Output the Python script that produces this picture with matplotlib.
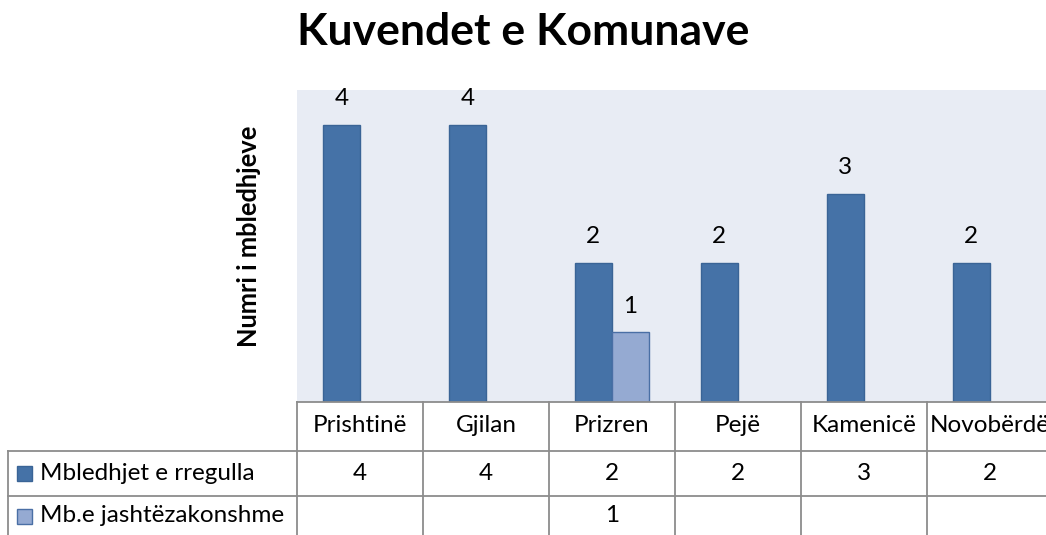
import matplotlib.pyplot as plt
import numpy as np
from matplotlib.transforms import blended_transform_factory

# te dhenat e grafikut
komunat = ['Prishtinë', 'Gjilan', 'Prizren', 'Pejë', 'Kamenicë', 'Novobërdë']
te_rregullta = [4, 4, 2, 2, 3, 2]
jashtezakonshme = [None, None, 1, None, None, None]
seri_emrat = ['Mbledhjet e rregulla', 'Mb.e jashtëzakonshme']

ngjyrat = ['#4572A7', '#95AAD2']
skajet = ['#3A6496', '#4A6FA5']
W, H = 1046, 535
fs = 17.5

plt.rcParams['font.family'] = ['Lato', 'DejaVu Sans']

fig = plt.figure(figsize=(W / 100, H / 100), dpi=100)
# plot area goes past the right edge, like the cropped original
ax = fig.add_axes([297 / W, 1 - 401.7 / H, 756 / W, 311.7 / H])
ax.set_facecolor('#E8ECF4')
ax.set_xlim(-0.5, len(komunat) - 0.5)
ax.set_ylim(0, 4.5)
ax.set_xticks([])
ax.set_yticks([])
for s in ax.spines.values():
    s.set_visible(False)

x = np.arange(len(komunat))
bw = 0.295
for i, vlerat in enumerate([te_rregullta, jashtezakonshme]):
    off = (i - 0.5) * bw
    for xi, v in zip(x, vlerat):
        if v is None:
            continue
        ax.bar(xi + off, v, bw, color=ngjyrat[i], edgecolor=skajet[i], linewidth=1)
        ax.annotate(str(v), (xi + off, v), xytext=(0, 19), textcoords='offset points',
                    ha='center', va='center', fontsize=fs)

fig.text(249 / W, 1 - 236 / H, 'Numri i mbledhjeve', rotation=90, ha='center', va='center',
         fontsize=18.4, fontweight='bold')
fig.text(523 / W, 1 - 45 / H, 'Kuvendet e Komunave', ha='center', va='baseline',
         fontsize=32, fontweight='bold')

# tabela e te dhenave poshte grafikut
tr = blended_transform_factory(ax.transData, fig.transFigure)
ngj_vija = '#8C8C8C'
y_rreshta = [1 - 401.7 / H, 1 - 451 / H, 1 - 496 / H]
xr = len(komunat) + 1
x_majtas = 8 / W

ax.plot([-0.5, xr], [y_rreshta[0]] * 2, color=ngj_vija, lw=1.3, transform=tr, clip_on=False)
for yy in y_rreshta[1:]:
    fig.add_artist(plt.Line2D([x_majtas, 1], [yy, yy], color=ngj_vija, lw=1.3))
fig.add_artist(plt.Line2D([x_majtas, x_majtas], [0, y_rreshta[1]], color=ngj_vija, lw=1.3))
for k in range(len(komunat) + 1):
    ax.plot([k - 0.5] * 2, [0, y_rreshta[0]], color=ngj_vija, lw=1.3, transform=tr, clip_on=False)

y_tekst = [1 - 426 / H, 1 - 473 / H, 1 - 516 / H]
for xi, emri in zip(x, komunat):
    ax.text(xi, y_tekst[0], emri, ha='center', va='center', fontsize=fs, transform=tr, clip_on=False)
for r, vlerat in enumerate([te_rregullta, jashtezakonshme]):
    for xi, v in zip(x, vlerat):
        if v is not None:
            ax.text(xi, y_tekst[r + 1], str(v), ha='center', va='center', fontsize=fs,
                    transform=tr, clip_on=False)
    fig.add_artist(plt.Rectangle((16.5 / W, y_tekst[r + 1] - 7.5 / H), 15.5 / W, 14.5 / H,
                                 facecolor=ngjyrat[r], edgecolor=skajet[r], lw=1,
                                 transform=fig.transFigure))
    fig.text(40 / W, y_tekst[r + 1], seri_emrat[r], ha='left', va='center', fontsize=fs)

fig.savefig('out.png', dpi=100)
